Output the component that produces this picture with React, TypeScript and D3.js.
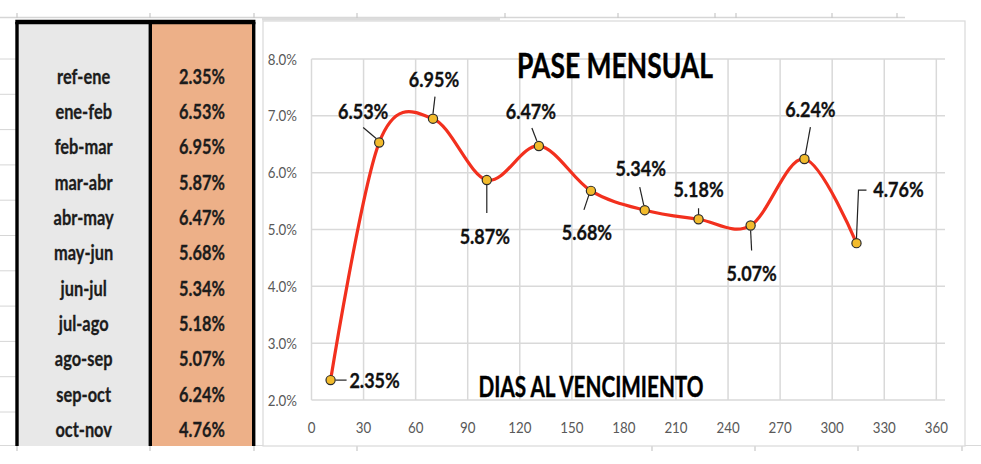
import React from "react";
import * as d3 from "d3";

// ---------- data ----------
const periods = ["ref-ene", "ene-feb", "feb-mar", "mar-abr", "abr-may", "may-jun", "jun-jul", "jul-ago", "ago-sep", "sep-oct", "oct-nov"];
const rates = [2.35, 6.53, 6.95, 5.87, 6.47, 5.68, 5.34, 5.18, 5.07, 6.24, 4.76];
const days = [11, 39, 70, 101, 131, 161, 192, 223, 253, 284, 314];
const xTicks = [0, 30, 60, 90, 120, 150, 180, 210, 240, 270, 300, 330, 360];
const yTicks = [2, 3, 4, 5, 6, 7, 8];
const chartTitle = "PASE MENSUAL";
const xAxisTitle = "DIAS AL VENCIMIENTO";

// ---------- label layout (pixel offsets from each point) ----------
const labelOffsets: [number, number][] = [
  [44, 1], [-16, -31], [1, -39], [-2, 57], [-8, -34], [-4, 42],
  [-4, -41], [0, -29], [1, 48], [6, -49], [42, -53],
];
const leaderPaths: [number, number][][] = [
  [[5, 0], [16, 0]],
  [[-16, -15], [-3, -4]],
  [[2, -22], [0, -5]],
  [[0, 4], [0, 33]],
  [[-7, -18], [-2, -5]],
  [[-2, 4], [-7, 19]],
  [[-5, -23], [-1, -5]],
  [[0, -11], [0, -5]],
  [[0, 5], [1, 25]],
  [[6, -32], [1, -5]],
  [[10, -53], [2, -53], [0, -5]],
];

const W = 981;
const H = 464;
const FONT = "Lato, 'Open Sans', 'Liberation Sans', sans-serif";

const T = ({ x, y, sx = 1, children, ...rest }: any) => (
  <text transform={`translate(${x},${y}) scale(${sx},1)`} {...rest}>
    {children}
  </text>
);

export default function App() {
  const x = d3.scaleLinear().domain([0, 365]).range([311.5, 945]);
  const y = d3.scaleLinear().domain([2, 8]).range([400, 59]);
  const rowY = d3.scaleBand<string>().domain(periods).range([59, 447.3]);

  const pts = days.map((d, i) => [x(d), y(rates[i])] as [number, number]);
  const line = d3.line<[number, number]>().curve(d3.curveCardinal.tension(0));

  const tblL = 17, tblM = 150.3, tblR = 253.7, tblT = 22, tblB = 446;

  return (
    <svg width={W} height={H} style={{ position: "absolute", left: 0, top: 0, background: "#fff" }} fontFamily={FONT}>
      <rect x={0} y={0} width={W} height={H} fill="#fff" />

      {/* spreadsheet background lines */}
      <line x1={0} x2={905} y1={17.5} y2={17.5} stroke="#d6d6d6" strokeWidth={1.5} />
      <line x1={262} x2={500} y1={19} y2={19} stroke="#dcdcdc" strokeWidth={3} />
      {[17, 150, 254, 357, 505, 618, 715, 736, 832, 897].map((v) => (
        <line key={"ct" + v} x1={v} x2={v} y1={13} y2={18} stroke="#c8c8c8" strokeWidth={1.2} />
      ))}
      {periods.map((p) => (
        <line key={"rl" + p} x1={0} x2={16} y1={rowY(p)!} y2={rowY(p)!} stroke="#d6d6d6" strokeWidth={1} />
      ))}
      <line x1={0} x2={W} y1={445.5} y2={445.5} stroke="#d9d9d9" strokeWidth={1.2} />
      {[17, 150, 254, 357, 652, 755, 858, 962].map((v) => (
        <line key={"bt" + v} x1={v} x2={v} y1={445} y2={451} stroke="#c8c8c8" strokeWidth={1.2} />
      ))}

      {/* chart frame */}
      <rect x={263} y={21} width={702} height={425} fill="#fff" stroke="#d9d9d9" strokeWidth={1.2} />

      {/* table */}
      <rect x={tblL} y={tblT} width={tblM - tblL} height={tblB - tblT} fill="#e8e8e8" />
      <rect x={tblM} y={tblT} width={tblR - tblM} height={tblB - tblT} fill="#edb088" />
      <line x1={tblL - 1.7} x2={tblR + 1.7} y1={tblT} y2={tblT} stroke="#000" strokeWidth={4.5} />
      {[tblL, tblM, tblR].map((v) => (
        <line key={"tv" + v} x1={v} x2={v} y1={tblT} y2={tblB} stroke="#000" strokeWidth={3.4} />
      ))}
      {periods.map((p, i) => (
        <g key={"row" + p}>
          <T x={(tblL + tblM) / 2} y={rowY(p)! + rowY.bandwidth() / 2} sx={0.82} textAnchor="middle" dy="0.36em"
            fontSize={20} fontWeight={700} fill="#1c1c1c" stroke="#1c1c1c" strokeWidth={0.3}>{p}</T>
          <T x={(tblM + tblR) / 2} y={rowY(p)! + rowY.bandwidth() / 2} sx={0.82} textAnchor="middle" dy="0.36em"
            fontSize={20} fontWeight={700} fill="#1c1c1c" stroke="#1c1c1c" strokeWidth={0.3}>{rates[i].toFixed(2) + "%"}</T>
        </g>
      ))}

      {/* gridlines */}
      {yTicks.map((t) => (
        <line key={"gy" + t} x1={x(0)} x2={x(365)} y1={y(t)} y2={y(t)} stroke="#d9d9d9" strokeWidth={1.5} />
      ))}
      {xTicks.map((t) => (
        <line key={"gx" + t} x1={x(t)} x2={x(t)} y1={y(8)} y2={y(2)} stroke="#d9d9d9" strokeWidth={1.5} />
      ))}

      {/* tick labels */}
      {yTicks.map((t) => (
        <T key={"ly" + t} x={297} y={y(t)} sx={0.86} textAnchor="end" dy="0.36em" fontSize={15.5} fill="#595959">
          {t.toFixed(1) + "%"}
        </T>
      ))}
      {xTicks.map((t) => (
        <T key={"lx" + t} x={x(t)} y={427} sx={0.86} textAnchor="middle" dy="0.36em" fontSize={15.5} fill="#595959">
          {t}
        </T>
      ))}

      {/* titles */}
      <text x={615} y={78} textAnchor="middle" fontSize={35} fontWeight={700} fill="#000" stroke="#000" strokeWidth={0.4}
        textLength={196} lengthAdjust="spacingAndGlyphs">{chartTitle}</text>
      <text x={591} y={396.5} textAnchor="middle" fontSize={28.5} fontWeight={700} fill="#000" stroke="#000" strokeWidth={0.4}
        textLength={225} lengthAdjust="spacingAndGlyphs">{xAxisTitle}</text>

      {/* line */}
      <path d={line(pts)!} fill="none" stroke="#f2301e" strokeWidth={3.2} strokeLinejoin="round" />

      {/* leader lines */}
      {pts.map(([px, py], i) => (
        <polyline key={"ld" + i} points={leaderPaths[i].map(([dx, dy]) => `${px + dx},${py + dy}`).join(" ")}
          fill="none" stroke="#222" strokeWidth={1.2} />
      ))}

      {/* markers */}
      {pts.map(([px, py], i) => (
        <circle key={"m" + i} cx={px} cy={py} r={4.6} fill="#f2bb2c" stroke="#2b2b2b" strokeWidth={1.2} />
      ))}

      {/* data labels */}
      {pts.map(([px, py], i) => (
        <T key={"dl" + i} x={px + labelOffsets[i][0]} y={py + labelOffsets[i][1]} sx={0.9} textAnchor="middle" dy="0.36em"
          fontSize={20} fontWeight={700} fill="#111" stroke="#111" strokeWidth={0.3}>{rates[i].toFixed(2) + "%"}</T>
      ))}
    </svg>
  );
}
